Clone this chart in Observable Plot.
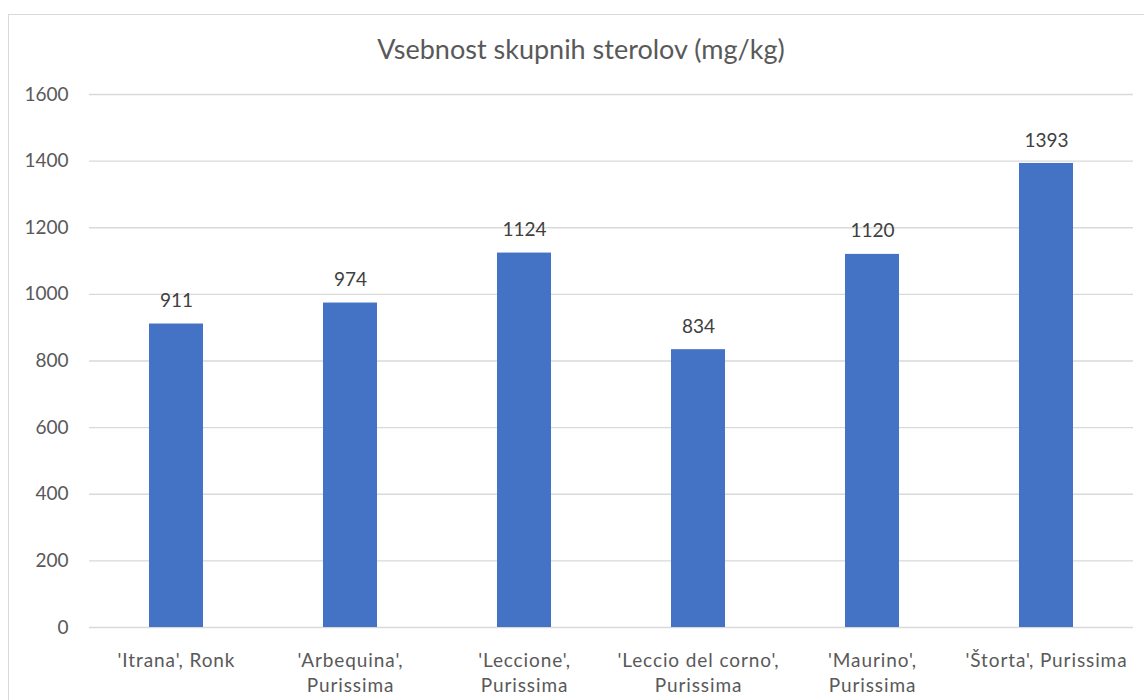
<!DOCTYPE html>
<html>
<head>
<meta charset="utf-8">
<script src="https://cdn.jsdelivr.net/npm/d3@7"></script>
<script src="https://cdn.jsdelivr.net/npm/@observablehq/plot@0.6"></script>
<style>
  html, body { margin: 0; padding: 0; background: #fff; overflow: hidden; width: 1144px; height: 700px; }
  #wrap { position: relative; width: 1144px; height: 700px; font-family: Lato, "Open Sans", sans-serif; }
  #frame { position: absolute; left: 8px; top: 14px; width: 1160px; height: 720px; border: 1.5px solid #d9d9d9; box-sizing: border-box; }
  #title { position: absolute; left: 0; top: 0; width: 1162px; height: 70px; text-align: center; font-size: 27px; color: #595959; line-height: 32px; padding-top: 33px; box-sizing: border-box; }
  #chart { position: absolute; left: 0; top: 70px; }
  svg text { font-family: Lato, "Open Sans", sans-serif; }
  g[aria-label="x-axis tick label"] text { letter-spacing: 0.9px; }
</style>
</head>
<body>
<div id="wrap">
  <div id="frame"></div>
  <div id="title">Vsebnost skupnih sterolov (mg/kg)</div>
  <div id="chart"></div>
</div>
<script>
const categories = ["'Itrana', Ronk", "'Arbequina', Purissima", "'Leccione', Purissima", "'Leccio del corno', Purissima", "'Maurino', Purissima", "'Štorta', Purissima"];
const tickLabels = ["'Itrana', Ronk", "'Arbequina',\nPurissima", "'Leccione',\nPurissima", "'Leccio del corno',\nPurissima", "'Maurino',\nPurissima", "'Štorta', Purissima"];
const values = [911, 974, 1124, 834, 1120, 1393];
const yTicks = [0, 200, 400, 600, 800, 1000, 1200, 1400, 1600];

const data = categories.map((c, i) => ({category: c, value: values[i]}));
const labelOf = new Map(categories.map((c, i) => [c, tickLabels[i]]));

const chart = Plot.plot({
  width: 1144,
  height: 630,
  marginLeft: 89,
  marginRight: 11,
  marginTop: 24,
  marginBottom: 73,
  style: {fontSize: "19px", color: "#595959", background: "transparent"},
  x: {domain: categories, paddingInner: 0.69, paddingOuter: 0.345, label: null},
  y: {domain: [0, 1600], ticks: yTicks, label: null},
  marks: [
    Plot.gridY(yTicks, {stroke: "#d9d9d9", strokeOpacity: 1, strokeWidth: 1.3}),
    Plot.barY(data, {x: "category", y: "value", fill: "#4472C4"}),
    Plot.text(data, {x: "category", y: "value", text: d => String(d.value), dy: -23, fill: "#404040", fontSize: 19}),
    Plot.axisY(yTicks, {tickSize: 0, tickPadding: 21, fontSize: 19, fill: "#595959", tickFormat: d => String(d), label: null}),
    Plot.axisX({tickSize: 0, tickPadding: 22, fontSize: 19, fill: "#595959", lineHeight: 1.3, tickFormat: d => labelOf.get(d), label: null})
  ]
});
document.getElementById("chart").appendChild(chart);
</script>
</body>
</html>
